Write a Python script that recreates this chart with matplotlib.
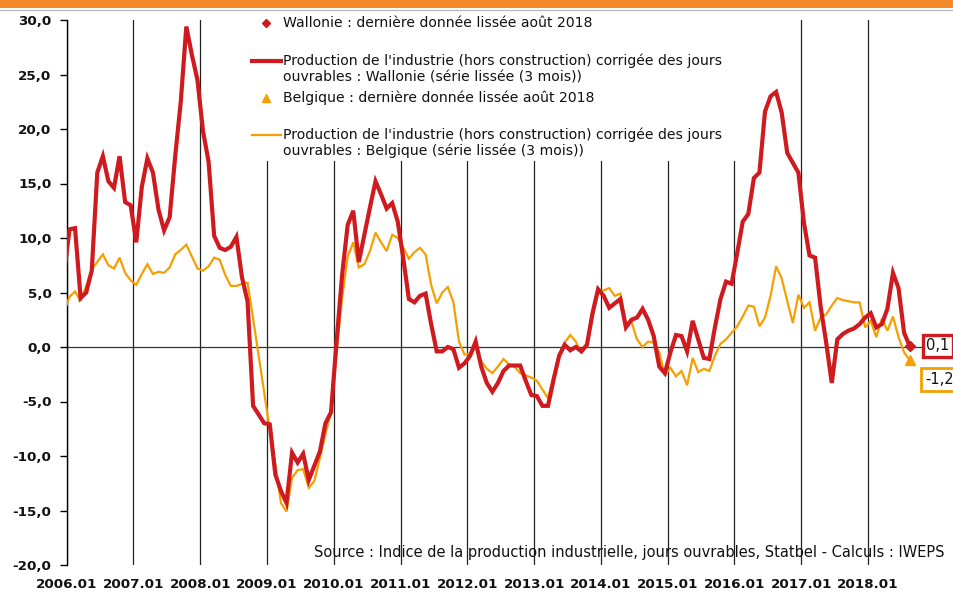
import numpy as np
import matplotlib.pyplot as plt
from matplotlib.lines import Line2D
from matplotlib.patches import Rectangle
from matplotlib.ticker import FuncFormatter

# Monthly smoothed y/y growth, 2005.12 (only the clipped stub at the left edge) to 2018.08
wallonie = [6.6,
            10.8, 10.9, 4.5, 5.0, 7.0, 16.0, 17.5, 15.2, 14.6, 17.5, 13.3, 13.0,
            9.6, 14.7, 17.3, 16.0, 12.6, 10.7, 11.9, 17.5, 22.5, 29.4, 26.8, 24.5,
            19.8, 17.0, 10.2, 9.1, 8.9, 9.2, 10.1, 6.4, 4.2, -5.4, -6.2, -7.0,
            -7.1, -11.7, -13.2, -14.3, -9.7, -10.6, -9.8, -12.2, -10.9, -9.6, -7.0, -6.0,
            0.5, 6.6, 11.2, 12.5, 7.8, 10.3, 12.8, 15.2, 14.0, 12.7, 13.2, 11.5,
            8.1, 4.4, 4.1, 4.7, 4.9, 2.1, -0.4, -0.4, 0.0, -0.2, -1.9, -1.5,
            -0.8, 0.5, -1.8, -3.3, -4.1, -3.3, -2.2, -1.7, -1.7, -1.7, -3.1, -4.4,
            -4.5, -5.4, -5.4, -3.0, -0.8, 0.2, -0.3, 0.0, -0.4, 0.2, 3.1, 5.3,
            4.7, 3.6, 4.0, 4.4, 1.8, 2.5, 2.7, 3.5, 2.5, 1.0, -1.8, -2.4,
            -0.5, 1.1, 1.0, -0.4, 2.4, 0.7, -1.0, -1.1, 1.8, 4.4, 6.0, 5.8,
            8.6, 11.5, 12.2, 15.5, 16.0, 21.6, 23.0, 23.4, 21.5, 17.8, 16.9, 16.0,
            11.4, 8.4, 8.2, 3.7, 0.4, -3.3, 0.7, 1.2, 1.5, 1.7, 2.1, 2.7,
            3.1, 1.8, 2.1, 3.5, 6.8, 5.4, 1.3, 0.1]

belgique = [3.2,
            4.6, 5.1, 4.2, 5.6, 7.1, 7.8, 8.5, 7.5, 7.2, 8.2, 6.8, 6.1,
            5.7, 6.7, 7.6, 6.7, 6.9, 6.8, 7.3, 8.5, 8.9, 9.4, 8.3, 7.2,
            7.0, 7.4, 8.2, 8.0, 6.6, 5.6, 5.6, 5.8, 5.9, 2.6, -0.8, -4.2,
            -7.6, -10.8, -14.3, -15.1, -12.0, -11.3, -11.2, -12.9, -12.3, -10.2, -8.0, -6.0,
            -0.5, 4.5, 8.3, 9.6, 7.3, 7.6, 8.8, 10.5, 9.6, 8.8, 10.3, 10.0,
            9.1, 8.1, 8.7, 9.1, 8.5, 5.7, 4.0, 5.0, 5.5, 4.1, 0.5, -0.7,
            -0.6, 0.0, -1.3, -2.0, -2.4, -1.8, -1.1, -1.6, -1.8, -2.4, -2.6, -2.8,
            -3.1, -3.9, -4.7, -2.7, -0.7, 0.4, 1.1, 0.5, -0.5, 0.1, 2.7, 5.1,
            5.2, 5.4, 4.7, 4.9, 2.2, 2.3, 0.7, 0.0, 0.5, 0.4, -0.5, -2.6,
            -1.9, -2.7, -2.2, -3.5, -1.0, -2.3, -2.0, -2.2, -0.8, 0.3, 0.7, 1.3,
            1.9, 2.8, 3.8, 3.7, 1.9, 2.7, 4.7, 7.4, 6.3, 4.2, 2.2, 4.8,
            3.6, 4.1, 1.5, 2.7, 3.0, 3.8, 4.5, 4.3, 4.2, 4.1, 4.1, 1.8,
            2.4, 0.9, 2.6, 1.5, 2.8, 0.9, -0.5, -1.2]

years = [str(y) + ".01" for y in range(2006, 2019)]

RED = '#CF1A20'
ORANGE = '#F5A000'
W, H = 954, 594

def px(x, y):
    # pixel position -> figure fraction
    return x / W, 1 - y / H

plt.rcParams['font.family'] = 'DejaVu Sans'

fig = plt.figure(figsize=(W / 100, H / 100), dpi=100)
ax = fig.add_axes([66.7 / W, 29 / H, 868 / W, 545 / H])

# month index, centred in its month like the original category axis
x = np.arange(len(wallonie)) - 1 + 0.5

for i in range(len(years)):
    ax.axvline(i * 12, color='#222222', lw=0.9, zorder=1)
ax.axhline(0, color='#333333', lw=0.9, zorder=1)

ax.plot(x, belgique, color=ORANGE, lw=1.6, zorder=3, solid_joinstyle='miter')
ax.plot(x, wallonie, color=RED, lw=3.0, zorder=4, solid_joinstyle='miter')
ax.plot(x[-1], wallonie[-1], marker='D', color=RED, ms=5.5, zorder=5)
ax.plot(x[-1], belgique[-1], marker='^', color=ORANGE, ms=7, zorder=5)

ax.set_xlim(0, 156)
ax.set_ylim(-20, 30)
ax.set_yticks(np.arange(-20, 31, 5))
ax.yaxis.set_major_formatter(FuncFormatter(lambda v, p: f"{v:.1f}".replace('.', ',')))
ax.set_xticks(np.arange(0, 12 * len(years), 12))
ax.set_xticklabels(years)
ax.tick_params(axis='y', length=5, width=1, pad=6, labelsize=9.7)
ax.tick_params(axis='x', length=0, pad=9, labelsize=9.7)
for lab in ax.get_xticklabels() + ax.get_yticklabels():
    lab.set_fontweight('bold')
    lab.set_color('#111111')
for s in ['top', 'right', 'bottom']:
    ax.spines[s].set_visible(False)
ax.spines['left'].set_linewidth(1)

# end-of-series value boxes
ax.annotate(f"{wallonie[-1]:.1f}".replace('.', ','), xy=(x[-1], wallonie[-1]),
            xytext=(12, 0), textcoords='offset points', ha='left', va='center',
            fontsize=10.5, zorder=6, annotation_clip=False, color='#111111',
            bbox=dict(boxstyle='square,pad=0.22', fc='white', ec=RED, lw=2.4))
ax.annotate(f"{belgique[-1]:.1f}".replace('.', ','), xy=(x[-1], belgique[-1]),
            xytext=(11, -14), textcoords='offset points', ha='left', va='center',
            fontsize=10.5, zorder=6, annotation_clip=False, color='#111111',
            bbox=dict(boxstyle='square,pad=0.3', fc='white', ec=ORANGE, lw=2.0))

# legend (white background hides the gridlines behind it)
ax.add_patch(Rectangle(px(244, 161), 505 / W, 150 / H, transform=fig.transFigure,
                       fc='white', ec='none', zorder=2, clip_on=False))
fs = 10.1
fig.add_artist(Line2D([px(266, 0)[0]], [px(0, 23)[1]], marker='D', color=RED, ms=4.5, ls='none'))
fig.add_artist(Line2D([px(252, 0)[0], px(281, 0)[0]], [px(0, 60.5)[1]] * 2, color=RED, lw=3.0))
fig.add_artist(Line2D([px(266, 0)[0]], [px(0, 97.5)[1]], marker='^', color=ORANGE, ms=6, ls='none'))
fig.add_artist(Line2D([px(252, 0)[0], px(281, 0)[0]], [px(0, 134.5)[1]] * 2, color=ORANGE, lw=1.6))
legend_rows = [
    (23, "Wallonie : dernière donnée lissée août 2018"),
    (60.5, "Production de l'industrie (hors construction) corrigée des jours"),
    (77.2, "ouvrables : Wallonie (série lissée (3 mois))"),
    (97.5, "Belgique : dernière donnée lissée août 2018"),
    (134.5, "Production de l'industrie (hors construction) corrigée des jours"),
    (151.2, "ouvrables : Belgique (série lissée (3 mois))"),
]
for yy, txt in legend_rows:
    fig.text(*px(283, yy), txt, fontsize=fs, va='center', ha='left', color='#111111')

fig.text(*px(945, 553), "Source : Indice de la production industrielle, jours ouvrables, "
         "Statbel - Calculs : IWEPS", fontsize=10.5, ha='right', va='center', color='#111111')

# header band
fig.add_artist(Rectangle((0, 1 - 7.5 / H), 1, 7.5 / H, transform=fig.transFigure,
                         fc='#F4892B', ec='none'))
fig.add_artist(Line2D([0, 1], [1 - 10 / H] * 2, color='#BDBDBD', lw=1))

fig.savefig('out.png', dpi=100)
